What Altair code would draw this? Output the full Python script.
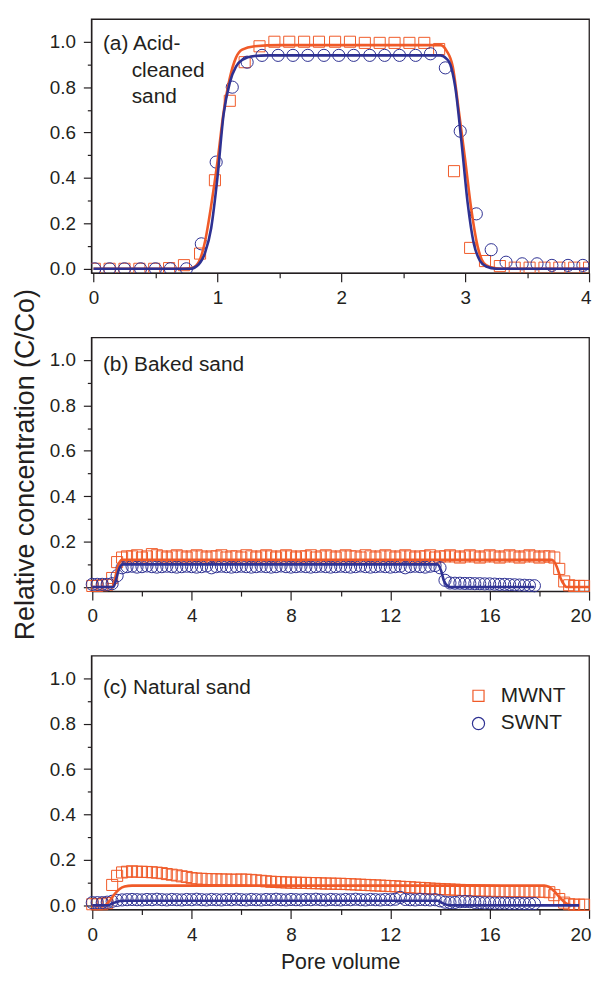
import altair as alt
import pandas as pd

FONT = "Liberation Sans"
INK = "#231F20"
ORANGE = "#F05A28"
BLUE = "#2E3192"

# ---------------- Panel (a): acid-cleaned sand ----------------
A_MWNT_X = [0.01, 0.13, 0.25, 0.37, 0.49, 0.61, 0.73, 0.86, 0.98, 1.10, 1.22, 1.34, 1.46, 1.58, 1.70, 1.82, 1.95,
            2.07, 2.19, 2.31, 2.43, 2.55, 2.67, 2.79, 2.91, 3.04, 3.16, 3.28, 3.40, 3.52, 3.64, 3.76, 3.88, 4.00]
A_MWNT_Y = [0.0, 0.0, 0.0, 0.0, 0.0, 0.003, 0.016, 0.067, 0.39, 0.74, 0.91, 0.98, 1.0, 1.0, 1.0, 1.0, 1.0,
            1.0, 0.995, 0.995, 0.995, 0.995, 0.995, 0.968, 0.43, 0.092, 0.034, 0.012, 0.005, 0.005, 0.005,
            0.005, 0.005, 0.005]
A_SWNT_X = [0.01, 0.13, 0.25, 0.38, 0.50, 0.62, 0.75, 0.87, 0.99, 1.12, 1.24, 1.36, 1.49, 1.61, 1.73, 1.86, 1.98,
            2.10, 2.23, 2.35, 2.47, 2.60, 2.72, 2.84, 2.96, 3.09, 3.21, 3.33, 3.46, 3.58, 3.70, 3.83, 3.95]
A_SWNT_Y = [0.0, 0.0, 0.0, 0.0, 0.0, 0.0, 0.0, 0.11, 0.47, 0.80, 0.91, 0.94, 0.94, 0.94, 0.94, 0.94, 0.94,
            0.94, 0.94, 0.94, 0.94, 0.94, 0.947, 0.885, 0.606, 0.242, 0.084, 0.029, 0.022, 0.022, 0.015,
            0.015, 0.015]
A_MWNT_FIT_X = [0, 0.7, 0.8, 0.85, 0.9, 0.95, 1.0, 1.05, 1.1, 1.15, 1.2, 1.3, 1.5, 2.8, 2.85, 2.9, 2.95,
                3.0, 3.05, 3.1, 3.15, 3.2, 3.3, 4.0]
A_MWNT_FIT_Y = [0, 0, 0.005, 0.03, 0.12, 0.28, 0.47, 0.69, 0.84, 0.93, 0.965, 0.98, 0.985, 0.985, 0.96, 0.89,
                0.69, 0.48, 0.26, 0.10, 0.025, 0.008, 0.0, 0.0]
A_SWNT_FIT_X = [0, 0.78, 0.85, 0.9, 0.95, 1.0, 1.05, 1.1, 1.15, 1.2, 1.3, 1.4, 2.8, 2.85, 2.88, 2.92, 2.97,
                3.02, 3.07, 3.12, 3.17, 3.25, 4.0]
A_SWNT_FIT_Y = [0, 0, 0.02, 0.07, 0.18, 0.40, 0.68, 0.82, 0.89, 0.92, 0.937, 0.94, 0.94, 0.925, 0.90, 0.80,
                0.56, 0.29, 0.11, 0.035, 0.01, 0.0, 0.0]

# ---------------- Panels (b), (c): common pore-volume sampling ----------------
PV = [0.0, 0.2, 0.4, 0.6, 0.8, 1.0, 1.2, 1.4, 1.6, 1.8, 2.0, 2.2, 2.4, 2.6, 2.8, 3.0, 3.2, 3.4, 3.6, 3.8,
      4.0, 4.2, 4.4, 4.6, 4.8, 5.0, 5.2, 5.4, 5.6, 5.8, 6.0, 6.2, 6.4, 6.6, 6.8, 7.0, 7.2, 7.4, 7.6, 7.8,
      8.0, 8.2, 8.4, 8.6, 8.8, 9.0, 9.2, 9.4, 9.6, 9.8, 10.0, 10.2, 10.4, 10.6, 10.8, 11.0, 11.2, 11.4, 11.6, 11.8,
      12.0, 12.2, 12.4, 12.6, 12.8, 13.0, 13.2, 13.4, 13.6, 13.8, 14.0, 14.2, 14.4, 14.6, 14.8, 15.0, 15.2, 15.4,
      15.6, 15.8, 16.0, 16.2, 16.4, 16.6, 16.8, 17.0, 17.2, 17.4, 17.6, 17.8, 18.0, 18.2, 18.4, 18.6, 18.8, 19.0,
      19.2, 19.4, 19.6, 19.8]

# (b) baked sand
B_MWNT_Y = [0.005, 0.005, 0.008, 0.01, 0.04, 0.11, 0.13, 0.135,
            0.135, 0.14, 0.13, 0.135, 0.145, 0.14, 0.135, 0.13, 0.135, 0.14,
            0.135, 0.13, 0.135, 0.14, 0.135, 0.13, 0.135, 0.135, 0.14, 0.13,
            0.135, 0.135, 0.13, 0.14, 0.135, 0.13, 0.135, 0.14, 0.135, 0.13,
            0.135, 0.14, 0.135, 0.13, 0.135, 0.135, 0.14, 0.13, 0.135, 0.14,
            0.135, 0.13, 0.135, 0.14, 0.135, 0.135, 0.13, 0.14, 0.135, 0.13,
            0.135, 0.14, 0.135, 0.13, 0.135, 0.14, 0.135, 0.13, 0.135, 0.135,
            0.14, 0.13, 0.135, 0.135, 0.14, 0.135, 0.13, 0.135, 0.14, 0.135,
            0.13, 0.135, 0.14, 0.135, 0.13, 0.135, 0.14, 0.135, 0.13, 0.135,
            0.14, 0.135, 0.13, 0.135, 0.135,
            0.13, 0.08, 0.025, 0.008, 0.005, 0.005, 0.005]
B_SWNT_Y = [0.012, 0.012, 0.012, 0.012, 0.015, 0.05, 0.085,
            0.09, 0.092, 0.088, 0.09, 0.093, 0.09, 0.088, 0.09, 0.092, 0.09,
            0.088, 0.09, 0.092, 0.09, 0.088, 0.09, 0.093, 0.085, 0.09, 0.092,
            0.09, 0.088, 0.09, 0.092, 0.09, 0.088, 0.09, 0.092, 0.09, 0.088,
            0.09, 0.093, 0.09, 0.088, 0.09, 0.092, 0.09, 0.088, 0.09, 0.092,
            0.09, 0.088, 0.09, 0.092, 0.09, 0.088, 0.09, 0.093, 0.09, 0.088,
            0.09, 0.092, 0.09, 0.088, 0.09, 0.092, 0.085, 0.09, 0.092, 0.09,
            0.088, 0.092, 0.095,
            0.085, 0.03,
            0.018, 0.017, 0.017, 0.016, 0.016, 0.015, 0.015, 0.014, 0.014, 0.013,
            0.012, 0.012, 0.011, 0.01, 0.009, 0.008, 0.007, 0.006]
B_MWNT_FIT_X = [0, 0.8, 0.9, 1.0, 1.1, 1.2, 18.5, 18.7, 18.85, 19.0, 19.1, 20.0]
B_MWNT_FIT_Y = [0, 0, 0.03, 0.08, 0.11, 0.12, 0.12, 0.09, 0.04, 0.01, 0.0, 0.0]
B_SWNT_FIT_X = [0, 0.85, 0.95, 1.05, 1.15, 1.25, 13.9, 14.05, 14.15, 14.3, 14.4, 17.8]
B_SWNT_FIT_Y = [0, 0, 0.03, 0.07, 0.095, 0.10, 0.10, 0.07, 0.03, 0.005, 0.0, 0.0]

# (c) natural sand
C_MWNT_Y = [0.005, 0.005, 0.005, 0.01, 0.09, 0.13, 0.145,
            0.148, 0.15, 0.148, 0.148, 0.147, 0.146,
            0.144, 0.142, 0.138, 0.135, 0.132, 0.128, 0.125,
            0.12, 0.118, 0.117, 0.116, 0.115, 0.115, 0.114, 0.114, 0.113, 0.113,
            0.114, 0.113, 0.112, 0.11, 0.108, 0.106, 0.104, 0.103, 0.102, 0.101,
            0.1, 0.1, 0.099, 0.099, 0.098, 0.098, 0.097, 0.096, 0.096, 0.095,
            0.095, 0.094, 0.093, 0.092, 0.091, 0.09, 0.089, 0.088, 0.087, 0.086,
            0.085, 0.084, 0.082, 0.081, 0.08, 0.078, 0.077, 0.076, 0.074, 0.073,
            0.072, 0.071, 0.07, 0.069, 0.068, 0.067, 0.066, 0.066, 0.065, 0.065,
            0.064, 0.064, 0.063, 0.063, 0.062, 0.062, 0.062, 0.061, 0.061, 0.061,
            0.06, 0.06, 0.058, 0.045, 0.028, 0.012, 0.005, 0.003, 0.003, 0.003]
C_SWNT_Y = [0.012, 0.012, 0.012, 0.014, 0.018, 0.022,
            0.024, 0.025, 0.026, 0.025, 0.024, 0.026, 0.025, 0.027, 0.025, 0.024,
            0.026, 0.025, 0.024, 0.026, 0.025, 0.027, 0.025, 0.024, 0.026, 0.025,
            0.024, 0.026, 0.025, 0.027, 0.025, 0.024, 0.026, 0.025, 0.024, 0.026,
            0.025, 0.027, 0.025, 0.024, 0.026, 0.025, 0.024, 0.026, 0.025, 0.027,
            0.025, 0.024, 0.026, 0.025, 0.024, 0.026, 0.025, 0.027, 0.025, 0.024,
            0.026, 0.025, 0.024, 0.026, 0.025, 0.027, 0.035, 0.026, 0.025, 0.024,
            0.026, 0.025, 0.024,
            0.025, 0.02, 0.014,
            0.012, 0.013, 0.016, 0.017, 0.016, 0.013, 0.012, 0.011, 0.011, 0.01,
            0.01, 0.01, 0.009, 0.009, 0.009, 0.008, 0.008, 0.008]
C_MWNT_FIT_X = [0, 0.5, 0.7, 0.9, 1.1, 1.3, 1.6, 18.2, 18.4, 18.6, 18.8, 19.0, 19.2, 19.3]
C_MWNT_FIT_Y = [0, 0, 0.02, 0.05, 0.072, 0.083, 0.087, 0.087, 0.08, 0.062, 0.037, 0.015, 0.003, 0.0]
C_SWNT_FIT_X = [0, 0.6, 0.8, 1.0, 1.2, 13.9, 14.1, 14.3, 14.4, 19.6]
C_SWNT_FIT_Y = [0, 0, 0.008, 0.016, 0.02, 0.02, 0.01, 0.002, 0.0, 0.0]

SERIES = ["MWNT", "SWNT"]
Y_TICKS = [0.0, 0.1, 0.2, 0.3, 0.4, 0.5, 0.6, 0.7, 0.8, 0.9, 1.0]
XA_TICKS = [0, 0.5, 1, 1.5, 2, 2.5, 3, 3.5, 4]
XB_TICKS = [0, 2, 4, 6, 8, 10, 12, 14, 16, 18, 20]

W, H = 502, 256


def points_frame(mx, my, sx, sy):
    return pd.DataFrame({
        "x": list(mx) + list(sx),
        "y": list(my) + list(sy),
        "series": ["MWNT"] * len(mx) + ["SWNT"] * len(sx),
    })


def panel(pts, fits, xdomain, xticks, xmajor_test, labels, xtitle, ytitle, legend, clip):
    yaxis = alt.Axis(
        values=Y_TICKS,
        tickSize={"condition": {"test": "round(datum.value*10) % 2 == 0", "value": 8}, "value": 4},
        labelExpr="round(datum.value*10) % 2 == 0 ? format(datum.value, '.1f') : ''",
        title=ytitle,
        grid=False,
    )
    xaxis = alt.Axis(
        values=xticks,
        tickSize={"condition": {"test": xmajor_test, "value": 9}, "value": 5},
        labelExpr=f"{xmajor_test} ? format(datum.value, 'd') : ''",
        labelFlush=True,
        labelFlushOffset=2,
        title=xtitle,
        grid=False,
    )
    X = alt.X("x:Q", scale=alt.Scale(domain=xdomain, nice=False, zero=False), axis=xaxis)
    Y = alt.Y("y:Q", scale=alt.Scale(domain=[-0.018, 1.1], nice=False, zero=False), axis=yaxis)

    leg = None
    if legend:
        leg = alt.Legend(orient="none", legendX=380, legendY=30, title=None, padding=0,
                         labelFont=FONT, labelFontSize=21, labelColor=INK, labelOffset=12,
                         symbolSize=185, symbolStrokeWidth=1.2, rowPadding=6)
    pts_layer = alt.Chart(pts).mark_point(filled=False, strokeWidth=1.0, opacity=1, clip=clip).encode(
        x=X, y=Y,
        color=alt.Color("series:N", scale=alt.Scale(domain=SERIES, range=[ORANGE, BLUE]), legend=leg),
        shape=alt.Shape("series:N", scale=alt.Scale(domain=SERIES, range=["square", "circle"]), legend=leg),
        size=alt.Size("series:N", scale=alt.Scale(domain=SERIES, range=[125, 150]), legend=None),
    )
    layers = [pts_layer]
    for (fx, fy), col in zip(fits, [ORANGE, BLUE]):
        layers.append(alt.Chart(pd.DataFrame({"x": fx, "y": fy})).mark_line(
            color=col, strokeWidth=2.6, interpolate="monotone").encode(x=X, y=Y))
    for txt, px, py in labels:
        layers.append(alt.Chart(pd.DataFrame({"t": [txt]})).mark_text(
            align="left", baseline="middle", font=FONT, fontSize=21, color=INK).encode(
            x=alt.value(px), y=alt.value(py), text="t:N"))
    return alt.layer(*layers).properties(width=W, height=H)


pa = panel(points_frame(A_MWNT_X, A_MWNT_Y, A_SWNT_X, A_SWNT_Y),
           [(A_MWNT_FIT_X, A_MWNT_FIT_Y), (A_SWNT_FIT_X, A_SWNT_FIT_Y)],
           [-0.018, 4.0], XA_TICKS, "round(datum.value*2) % 2 == 0",
           [("(a) Acid-", 11.7, 25), ("cleaned", 40.7, 52), ("sand", 40.7, 79)], None, None, False, True)
pb = panel(points_frame(PV[:len(B_MWNT_Y)], B_MWNT_Y, PV[:len(B_SWNT_Y)], B_SWNT_Y),
           [(B_MWNT_FIT_X, B_MWNT_FIT_Y), (B_SWNT_FIT_X, B_SWNT_FIT_Y)],
           [-0.04, 20.0], XB_TICKS, "datum.value % 4 == 0",
           [("(b) Baked sand", 11.7, 28)], None, "Relative concentration (C/Co)", False, False)
pc = panel(points_frame(PV[:len(C_MWNT_Y)], C_MWNT_Y, PV[:len(C_SWNT_Y)], C_SWNT_Y),
           [(C_MWNT_FIT_X, C_MWNT_FIT_Y), (C_SWNT_FIT_X, C_SWNT_FIT_Y)],
           [-0.04, 20.0], XB_TICKS, "datum.value % 4 == 0",
           [("(c) Natural sand", 11.7, 33)], "Pore volume", None, True, False)

chart = alt.vconcat(pa, pb, pc, spacing=65, bounds="flush").resolve_scale(
    color="independent", shape="independent", size="independent"
).properties(
    padding={"left": 2, "top": 6, "right": 0, "bottom": 0}
).configure(font=FONT, background="white").configure_view(
    stroke=INK, strokeWidth=1.3
).configure_axis(
    labelFont=FONT, labelFontSize=19, labelColor=INK, labelPadding=7,
    tickColor=INK, tickWidth=1.2, domainColor=INK, domainWidth=1.3,
    titleFont=FONT, titleColor=INK, titleFontWeight="normal",
).configure_axisY(
    labelPadding=8, titleFontSize=27, titlePadding=10,
).configure_axisX(
    titleFontSize=21.5, titlePadding=8,
)

chart.save("out.html", embed_options={"renderer": "svg", "actions": False})
